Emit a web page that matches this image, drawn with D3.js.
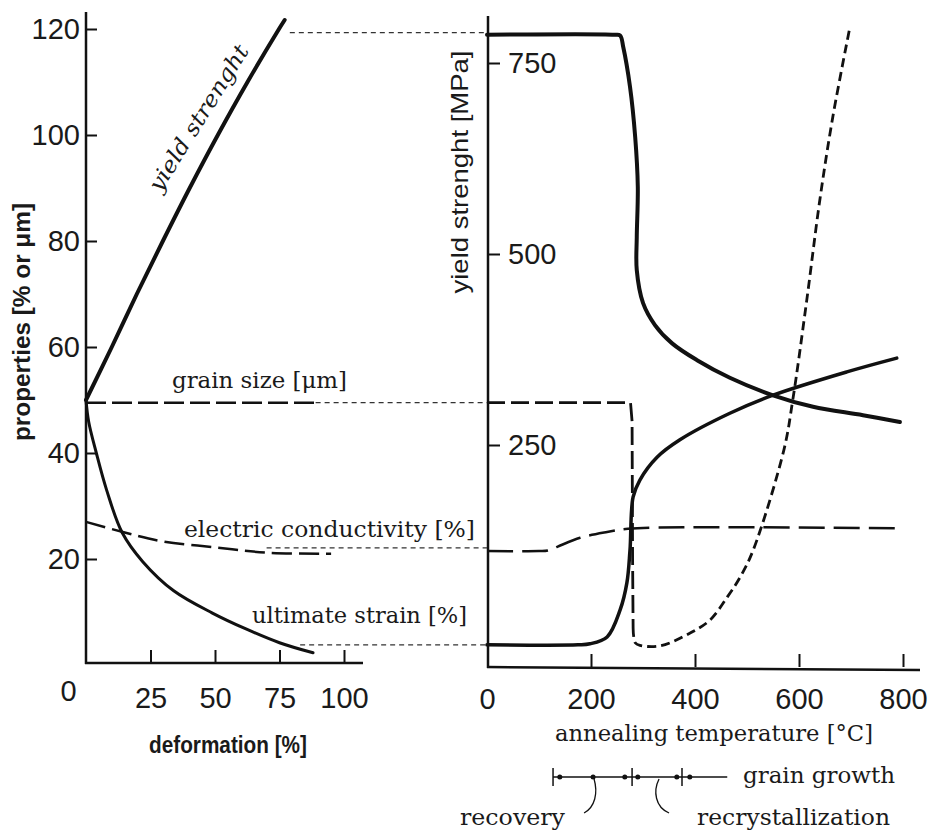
<!DOCTYPE html>
<html>
<head>
<meta charset="utf-8">
<script src="https://cdn.jsdelivr.net/npm/d3@7"></script>
<style>
  body { margin: 0; background: #fff; }
  svg { display: block; }
  .tick text { font-family: "Liberation Sans", Arial, sans-serif; font-size: 29px; fill: #1a1a1a; }
  .tick line { stroke: #111; stroke-width: 2; }
  .sans { font-family: "Liberation Sans", Arial, sans-serif; fill: #1a1a1a; }
  .serif { font-family: "DejaVu Serif", serif; fill: #1a1a1a; }
</style>
</head>
<body>
<div id="chart"></div>
<script>
//----------------------------------------------------------
// deformation side: [deformation %, value in % or um]
var g_def_yield   = [[0, 50], [10, 60], [19.7, 70], [29.8, 80], [40.2, 90], [51.1, 100], [62.6, 110], [74.8, 120], [77, 121.7]];
var g_def_strain  = [[0, 50], [1, 46], [4, 40], [8, 33], [14, 25], [22, 19.5], [34, 14], [49, 9.8], [62, 6.8], [75, 4.2], [88, 2.3]];
var g_def_conduct = [[0, 27], [15, 25], [30, 23.3], [50, 22.2], [70, 21.2], [95, 21]];
var g_def_grain   = [[0, 49.5], [89, 49.5]];

// annealing side: [temperature C, value]; yield in MPa, the rest in % or um
var g_ann_yield   = [[0, 787], [245, 787], [256, 786], [262, 771], [275, 719], [285, 653], [290, 588], [288, 522], [288, 479],
                     [300, 436], [323, 407], [356, 383], [404, 361], [467, 338], [550, 315], [627, 300], [723, 289], [794, 280]];
var g_ann_strain  = [[0, 3.8], [175, 3.8], [198, 4], [231, 5.3], [256, 10.4], [269, 15.5], [275, 21.7], [281, 31.7], [294, 34.9],
                     [327, 39.2], [371, 42.5], [467, 47.5], [550, 50.9], [692, 55.3], [788, 57.9]];
var g_ann_grain   = [[0, 49.5], [276, 49.5], [279, 46], [280, 20], [281, 7], [285, 4.2], [294, 3.7], [333, 3.6], [390, 6.0],
                     [429, 8.5], [462, 12.8], [487, 16.6], [512, 21.7], [571, 40.6], [588, 50], [615, 68.9], [640, 87.7],
                     [665, 103.4], [698, 120.4]];
var g_ann_conduct = [[0, 21.5], [100, 21.5], [117, 21.6], [135, 22.3], [179, 24], [231, 25.1], [271, 25.7], [410, 26], [788, 25.8]];

// thin tie lines from the deformation curves to the annealing axis: [deformation %, value]
var g_ties = [[79, 119.3], [89, 49.5], [70, 22.1], [83, 3.8]];

// axis ticks
var g_def_ticks_x = [0, 25, 50, 75, 100];
var g_prop_ticks  = [20, 40, 60, 80, 100, 120];
var g_temp_ticks  = [0, 200, 400, 600, 800];
var g_mpa_ticks   = [250, 500, 750];

// stages of annealing, temperatures in C
var g_stage_bounds = [127, 279, 375];
var g_stage_dots   = [140, 204, 265, 290, 365, 390];
var g_stage_end    = 462;


//----------------------------------------------------------
var g_svg = d3.select("#chart")
  .append("svg")
    .attr("width", 932)
    .attr("height", 830);

var g_xl = d3.scaleLinear().domain([0, 100]).range([86, 344]);
var g_yl = d3.scaleLinear().domain([0, 120]).range([665, 29]);
var g_xr = d3.scaleLinear().domain([0, 800]).range([487, 903]);
var g_yr = d3.scaleLinear().domain([250, 750]).range([445, 63]);

var INK = "#111";


//----------------------------------------------------------
function Curve(data, xs, ys, width, dash, straight) {
    var line = d3.line()
        .x(function (d) { return xs(d[0]); })
        .y(function (d) { return ys(d[1]); })
        .curve(straight ? d3.curveLinear : d3.curveCatmullRom.alpha(0.5));

    g_svg.append("path")
        .datum(data)
        .attr("d", line)
        .attr("fill", "none")
        .attr("stroke", INK)
        .attr("stroke-width", width)
        .attr("stroke-linejoin", "round")
        .attr("stroke-linecap", dash ? "butt" : "round")
        .attr("stroke-dasharray", dash || null);
}

function AxisLine(x1, y1, x2, y2) {
    g_svg.append("line")
        .attr("x1", x1).attr("y1", y1)
        .attr("x2", x2).attr("y2", y2)
        .attr("stroke", INK)
        .attr("stroke-width", 2.5);
}

function Label(text, cls, x, y, size, length, extra) {
    var t = g_svg.append("text")
        .attr("class", cls)
        .attr("x", x)
        .attr("y", y)
        .attr("font-size", size)
        .text(text);
    if (length) {
        t.attr("textLength", length).attr("lengthAdjust", "spacingAndGlyphs");
    }
    if (extra) extra(t);
    return t;
}


//----------------------------------------------------------
// axes
g_svg.append("g")
    .attr("transform", "translate(86,0)")
    .call(d3.axisLeft(g_yl).tickValues(g_prop_ticks).tickSize(-11).tickPadding(6))
    .call(function (g) { g.select(".domain").remove(); });
AxisLine(86, 12, 86, 664);

g_svg.append("g")
    .attr("transform", "translate(0,663)")
    .call(d3.axisBottom(g_xl).tickValues(g_def_ticks_x).tickSize(-13).tickPadding(24))
    .call(function (g) {
        g.select(".domain").remove();
        var zero = g.selectAll(".tick").filter(function (d) { return d === 0; });
        zero.select("line").remove();
        zero.select("text").attr("x", -18).attr("y", 17);
    });
AxisLine(85, 663, 363, 663);

g_svg.append("g")
    .attr("transform", "translate(488,0)")
    .call(d3.axisRight(g_yr).tickValues(g_mpa_ticks).tickSize(12).tickPadding(8))
    .call(function (g) { g.select(".domain").remove(); });
AxisLine(488, 16, 488, 668);

g_svg.append("g")
    .attr("transform", "translate(0,667)")
    .call(d3.axisBottom(g_xr).tickValues(g_temp_ticks).tickSize(-13).tickPadding(21))
    .call(function (g) {
        g.select(".domain").remove();
        g.selectAll(".tick").filter(function (d) { return d === 0; }).select("line").remove();
    });
AxisLine(487, 667, 920, 670);


//----------------------------------------------------------
// thin tie lines
g_svg.append("g")
  .selectAll("line")
  .data(g_ties)
  .join("line")
    .attr("x1", function (d) { return g_xl(d[0]); })
    .attr("x2", g_xr(0))
    .attr("y1", function (d) { return g_yl(d[1]); })
    .attr("y2", function (d) { return g_yl(d[1]); })
    .attr("stroke", "#333")
    .attr("stroke-width", 1.3)
    .attr("stroke-dasharray", "5,4");

// deformation curves
Curve(g_def_yield, g_xl, g_yl, 4);
Curve(g_def_strain, g_xl, g_yl, 3);
Curve(g_def_conduct, g_xl, g_yl, 2.5, "20,7");
Curve(g_def_grain, g_xl, g_yl, 2.5, "20,6", true);

// annealing curves
Curve(g_ann_yield, g_xr, g_yr, 4);
Curve(g_ann_strain, g_xr, g_yl, 3.5);
Curve(g_ann_conduct, g_xr, g_yl, 2.5, "26,9");
Curve(g_ann_grain.slice(0, 5), g_xr, g_yl, 2.8, "18,6", true);
Curve(g_ann_grain.slice(4), g_xr, g_yl, 2.8, "9,5");


//----------------------------------------------------------
// axis titles
Label("properties [% or \u03bcm]", "sans", 0, 0, 23, 238, function (t) {
    t.attr("transform", "translate(30,322) rotate(-90)").attr("text-anchor", "middle").attr("font-weight", "bold");
});
Label("deformation [%]", "sans", 228, 753, 23, 158, function (t) {
    t.attr("text-anchor", "middle").attr("font-weight", "bold");
});
Label("yield strenght [MPa]", "sans", 0, 0, 24, 243, function (t) {
    t.attr("transform", "translate(468,172) rotate(-90)").attr("text-anchor", "middle");
});
Label("annealing temperature [\u00b0C]", "serif", 555, 741, 22, 318);

// curve labels
Label("grain size [\u03bcm]", "serif", 172, 388, 22, 175);
Label("electric conductivity [%]", "serif", 184, 537, 22, 291);
Label("ultimate strain [%]", "serif", 252, 623, 22, 215);
Label("yield strenght", "serif", 0, 0, 22, 168, function (t) {
    t.attr("transform", "translate(205,122) rotate(-58)").attr("text-anchor", "middle").attr("font-style", "italic");
});


//----------------------------------------------------------
// annealing stages strip
var g_stage_y = 777;
var g_stage = g_svg.append("g");

g_stage.append("line")
    .attr("x1", g_xr(g_stage_bounds[0])).attr("x2", g_xr(g_stage_end))
    .attr("y1", g_stage_y).attr("y2", g_stage_y)
    .attr("stroke", INK).attr("stroke-width", 1.5);

g_stage.selectAll("line.bound")
  .data(g_stage_bounds)
  .join("line")
    .attr("class", "bound")
    .attr("x1", function (d) { return g_xr(d); })
    .attr("x2", function (d) { return g_xr(d); })
    .attr("y1", g_stage_y - 9).attr("y2", g_stage_y + 9)
    .attr("stroke", INK).attr("stroke-width", 1.5);

g_stage.selectAll("circle")
  .data(g_stage_dots)
  .join("circle")
    .attr("cx", function (d) { return g_xr(d); })
    .attr("cy", g_stage_y)
    .attr("r", 2.5)
    .attr("fill", INK);

// leaders to the stage names
var rx = g_xr(g_stage_dots[1]), cx = g_xr((g_stage_bounds[1] + g_stage_bounds[2]) / 2);
g_stage.append("path")
    .attr("d", "M" + (rx + 1) + "," + (g_stage_y + 2) + " C" + (rx + 5) + "," + (g_stage_y + 16) + " " + (rx + 2) + "," + (g_stage_y + 30) + " " + (rx - 9) + "," + (g_stage_y + 36))
    .attr("fill", "none").attr("stroke", INK).attr("stroke-width", 1.3);
g_stage.append("path")
    .attr("d", "M" + (cx + 2) + "," + (g_stage_y + 2) + " C" + (cx - 4) + "," + (g_stage_y + 14) + " " + (cx - 2) + "," + (g_stage_y + 30) + " " + (cx + 12) + "," + (g_stage_y + 36))
    .attr("fill", "none").attr("stroke", INK).attr("stroke-width", 1.3);

Label("grain growth", "serif", 743, 783, 22, 152);
Label("recovery", "serif", 460, 825, 22, 105);
Label("recrystallization", "serif", 697, 825, 22, 193);
</script>
</body>
</html>
